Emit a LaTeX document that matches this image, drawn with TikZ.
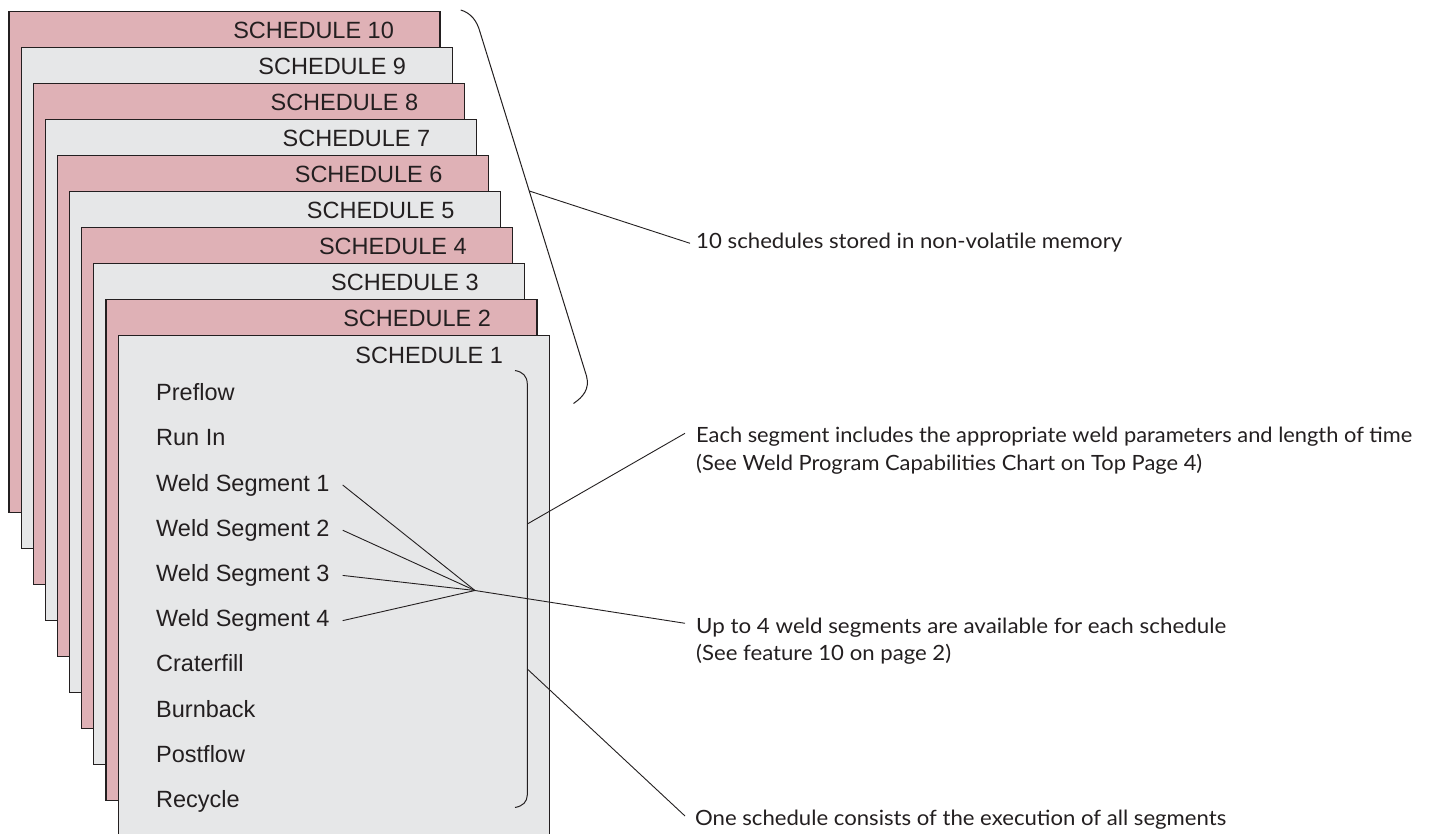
\documentclass[tikz,border=0pt]{standalone}
\usepackage{fontspec}
\usepackage{graphicx}
\setmainfont{Liberation Sans}
\newfontfamily\labfont{Lato}
\definecolor{spink}{RGB}{223,177,182}
\definecolor{sgray}{RGB}{230,231,232}
\definecolor{ink}{RGB}{35,31,32}
\newcommand\fitw[2]{\resizebox{#1}{\height}{#2}}
\tikzset{
  schedbox/.style={draw=ink, line width=1.2pt, rectangle, minimum width=431pt, minimum height=501pt, anchor=north west, inner sep=0pt},
  schedtitle/.style={anchor=base east, inner sep=0pt, text=ink, font=\fontsize{23.5}{28}\selectfont},
  item/.style={anchor=base west, inner sep=0pt, text=ink, font=\fontsize{23.5}{28}\selectfont},
  lab/.style={anchor=base west, inner sep=0pt, text=ink, font=\labfont\fontsize{21}{26}\selectfont},
  leader/.style={draw=ink, line width=0.9pt},
  bracket/.style={draw=ink, line width=1pt}
}
\begin{document}
\begin{tikzpicture}[x=1pt,y=-1pt]
\useasboundingbox (0,0) rectangle (1433,834);
\clip (0,0) rectangle (1433,834);
\fill[white] (0,0) rectangle (1433,834);
% stacked schedule sheets
\foreach \i in {10,9,...,1}{
  \pgfmathsetmacro\lx{117.5-12.12*(\i-1)}
  \pgfmathsetmacro\ty{335-36*(\i-1)}
  \ifodd\i\relax\def\fc{sgray}\else\def\fc{spink}\fi
  \node[schedbox,fill=\fc] (s\i) at (\lx,\ty) {};
  \node[schedtitle] (t\i) at ([xshift=-46.5pt,yshift=-28pt]s\i.north east) {SCHEDULE \i};
}
% items of schedule 1
\node[item] (preflow)    at (156,400.7) {Preflow};
\node[item] (runin)      at (156,445.9) {Run In};
\node[item] (ws1)        at (156,491.1) {Weld Segment 1};
\node[item] (ws2)        at (156,536.3) {Weld Segment 2};
\node[item] (ws3)        at (156,581.5) {Weld Segment 3};
\node[item] (ws4)        at (156,626.7) {Weld Segment 4};
\node[item] (craterfill) at (156,671.9) {Craterfill};
\node[item] (burnback)   at (156,717.1) {Burnback};
\node[item] (postflow)   at (156,762.3) {Postflow};
\node[item] (recycle)    at (156,807.5) {Recycle};
% inner bracket
\draw[bracket] (515,370.5) .. controls (523,372) and (527,376) .. (527.3,384)
  -- (527.3,795) .. controls (527,802) and (523,806) .. (515,807.5);
\coordinate (brA) at (527.3,524);
\coordinate (brB) at (527.3,669);
% outer brace
\draw[bracket] (460.7,10) .. controls (471,13) and (477,21) .. (480,32)
  -- (586.5,376) .. controls (590,389) and (583,397) .. (573.5,403.5);
\coordinate (ob) at (529.3,191);
% hub
\coordinate (hub) at (475,590.5);
% labels
\node[lab] (lab1)  at (696,248.3) {\fitw{426pt}{10 schedules stored in non-volatile memory}};
\node[lab] (lab2a) at (696,442.7) {\fitw{716pt}{Each segment includes the appropriate weld parameters and length of time}};
\node[lab] (lab2b) at (696,470.2) {\fitw{506pt}{(See Weld Program Capabilities Chart on Top Page 4)}};
\node[lab] (lab3a) at (696,633.3) {\fitw{530pt}{Up to 4 weld segments are available for each schedule}};
\node[lab] (lab3b) at (696,660.5) {\fitw{255pt}{(See feature 10 on page 2)}};
\node[lab] (lab4)  at (695,825)   {\fitw{531pt}{One schedule consists of the execution of all segments}};
% leaders
\foreach \k in {1,2,3,4}{
  \draw[leader] ([xshift=13pt]ws\k.east) -- (hub);
}
\draw[leader] (hub) -- ([xshift=-11pt,yshift=10pt]lab3a.base west);
\draw[leader] (ob) -- ([xshift=-6pt,yshift=5pt]lab1.base west);
\draw[leader] (brA) -- ([xshift=-11pt,yshift=9.4pt]lab2a.base west);
\draw[leader] (brB) -- ([xshift=-10pt,yshift=9pt]lab4.base west);
\end{tikzpicture}
\end{document}
